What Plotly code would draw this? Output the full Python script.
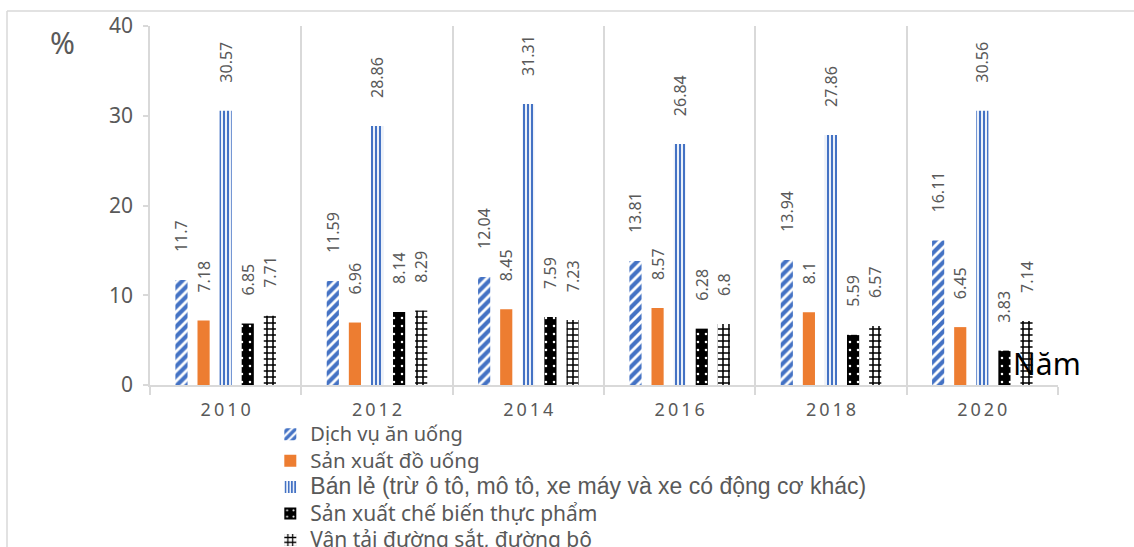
import plotly.graph_objects as go

years = [2010, 2012, 2014, 2016, 2018, 2020]
year_labels = ["2\u20090\u20091\u20090", "2\u20090\u20091\u20092", "2\u20090\u20091\u20094",
               "2\u20090\u20091\u20096", "2\u20090\u20091\u20098", "2\u20090\u20092\u20090"]

dich_vu_an_uong = [11.7, 11.59, 12.04, 13.81, 13.94, 16.11]
san_xuat_do_uong = [7.18, 6.96, 8.45, 8.57, 8.1, 6.45]
ban_le = [30.57, 28.86, 31.31, 26.84, 27.86, 30.56]
che_bien_thuc_pham = [6.85, 8.14, 7.59, 6.28, 5.59, 3.83]
van_tai_duong_bo = [7.71, 8.29, 7.23, 6.8, 6.57, 7.14]

names = [
    "Dịch vụ ăn uống",
    "Sản xuất đồ uống",
    "Bán lẻ (trừ ô tô, mô tô, xe máy và xe có động cơ khác)",
    "Sản xuất chế biến thực phẩm",
    "Vận tải đường sắt, đường bộ",
]

FONT = "Noto Sans"
GRAY = "#595959"
LINE = "#D9D9D9"
BLUE = "#4472C4"

# legend entry text styles (the retail entry uses an Arial-like face)
legend_styles = [
    "font-family:Noto Sans;font-size:20px",
    "font-family:Noto Sans;font-size:20.5px",
    "font-family:Liberation Sans;font-size:23px",
    "font-family:Noto Sans;font-size:21px",
    "font-family:Noto Sans;font-size:21px",
]

x = list(range(len(years)))

styles = [
    dict(color="white", pattern=dict(shape="/", fgcolor=BLUE, bgcolor="white", fgopacity=1,
                                     size=7, solidity=0.6)),
    dict(color="#ED7D31"),
    dict(color="white", pattern=dict(shape="|", fgcolor=BLUE, bgcolor="white", fgopacity=1,
                                     size=4, solidity=0.55)),
    dict(color="black", pattern=dict(shape=".", fgcolor="white", bgcolor="black", fgopacity=1,
                                     size=8, solidity=0.08)),
    dict(color="white", pattern=dict(shape="+", fgcolor="black", bgcolor="white", fgopacity=1,
                                     size=6, solidity=0.45)),
]
series = [dich_vu_an_uong, san_xuat_do_uong, ban_le, che_bien_thuc_pham, van_tai_duong_bo]

fig = go.Figure()
for name, style, vals, st in zip(names, legend_styles, series, styles):
    fig.add_trace(go.Bar(
        x=x, y=vals, name=f"<span style='{style}'>{name}</span>",
        marker=dict(line=dict(width=0), **st),
        texttemplate="\u00a0" * 6 + "%{y}", textposition="outside", textangle=-90,
        textfont=dict(family=FONT, size=16, color=GRAY),
        constraintext="none", cliponaxis=False,
    ))

boundaries = [i + 0.5 for i in range(-1, len(years))]

fig.update_layout(
    width=1134, height=547,
    margin=dict(l=150, r=76, t=26, b=162, autoexpand=False),
    paper_bgcolor="white", plot_bgcolor="white",
    barmode="group", bargap=0.27, bargroupgap=0.45,
    font=dict(family=FONT, color=GRAY),
    showlegend=True,
    legend=dict(
        x=0.1325, y=-0.0866, xanchor="left", yanchor="top",
        font=dict(family=FONT, size=18, color=GRAY),
        traceorder="normal", tracegroupgap=0, itemwidth=30,
        bgcolor="rgba(0,0,0,0)",
    ),
    xaxis=dict(
        range=[-0.5, len(years) - 0.5],
        tickmode="array", tickvals=x, ticktext=year_labels,
        tickfont=dict(family=FONT, size=18, color=GRAY),
        ticklabelstandoff=8,
        showgrid=False, ticks="", showline=True, linecolor=LINE, linewidth=1.5,
        zeroline=False,
        minor=dict(tickmode="array", tickvals=boundaries, showgrid=True,
                   gridcolor=LINE, gridwidth=1.5, ticks="outside", ticklen=8,
                   tickcolor=LINE, tickwidth=1.5),
    ),
    yaxis=dict(
        range=[0, 40], tickvals=[0, 10, 20, 30, 40],
        tickfont=dict(family=FONT, size=21, color=GRAY),
        ticklabelstandoff=6,
        showgrid=False, zeroline=False,
        showline=True, linecolor=LINE, linewidth=1.5,
        ticks="outside", ticklen=5, tickcolor=LINE, tickwidth=1.5,
    ),
)

# Outer frame of the chart area
fig.add_shape(type="line", xref="paper", yref="paper",
              x0=(7 - 150) / 908, x1=1.2, y0=(385 - 11) / 359, y1=(385 - 11) / 359,
              line=dict(color=LINE, width=1.5))
fig.add_shape(type="line", xref="paper", yref="paper",
              x0=(7 - 150) / 908, x1=(7 - 150) / 908, y0=(385 - 11) / 359, y1=-0.6,
              line=dict(color=LINE, width=1.5))

fig.add_annotation(text="%", xref="paper", yref="paper",
                   x=(62 - 150) / 908, y=(385 - 42) / 359, xanchor="center", yanchor="middle",
                   showarrow=False, font=dict(family=FONT, size=30, color=GRAY))
fig.add_annotation(text="Năm", xref="paper", yref="paper",
                   x=(1011 - 150) / 908, y=(385 - 363) / 359, xanchor="left", yanchor="middle",
                   showarrow=False, font=dict(family=FONT, size=30, color="black"))

fig.write_html("out.html")
